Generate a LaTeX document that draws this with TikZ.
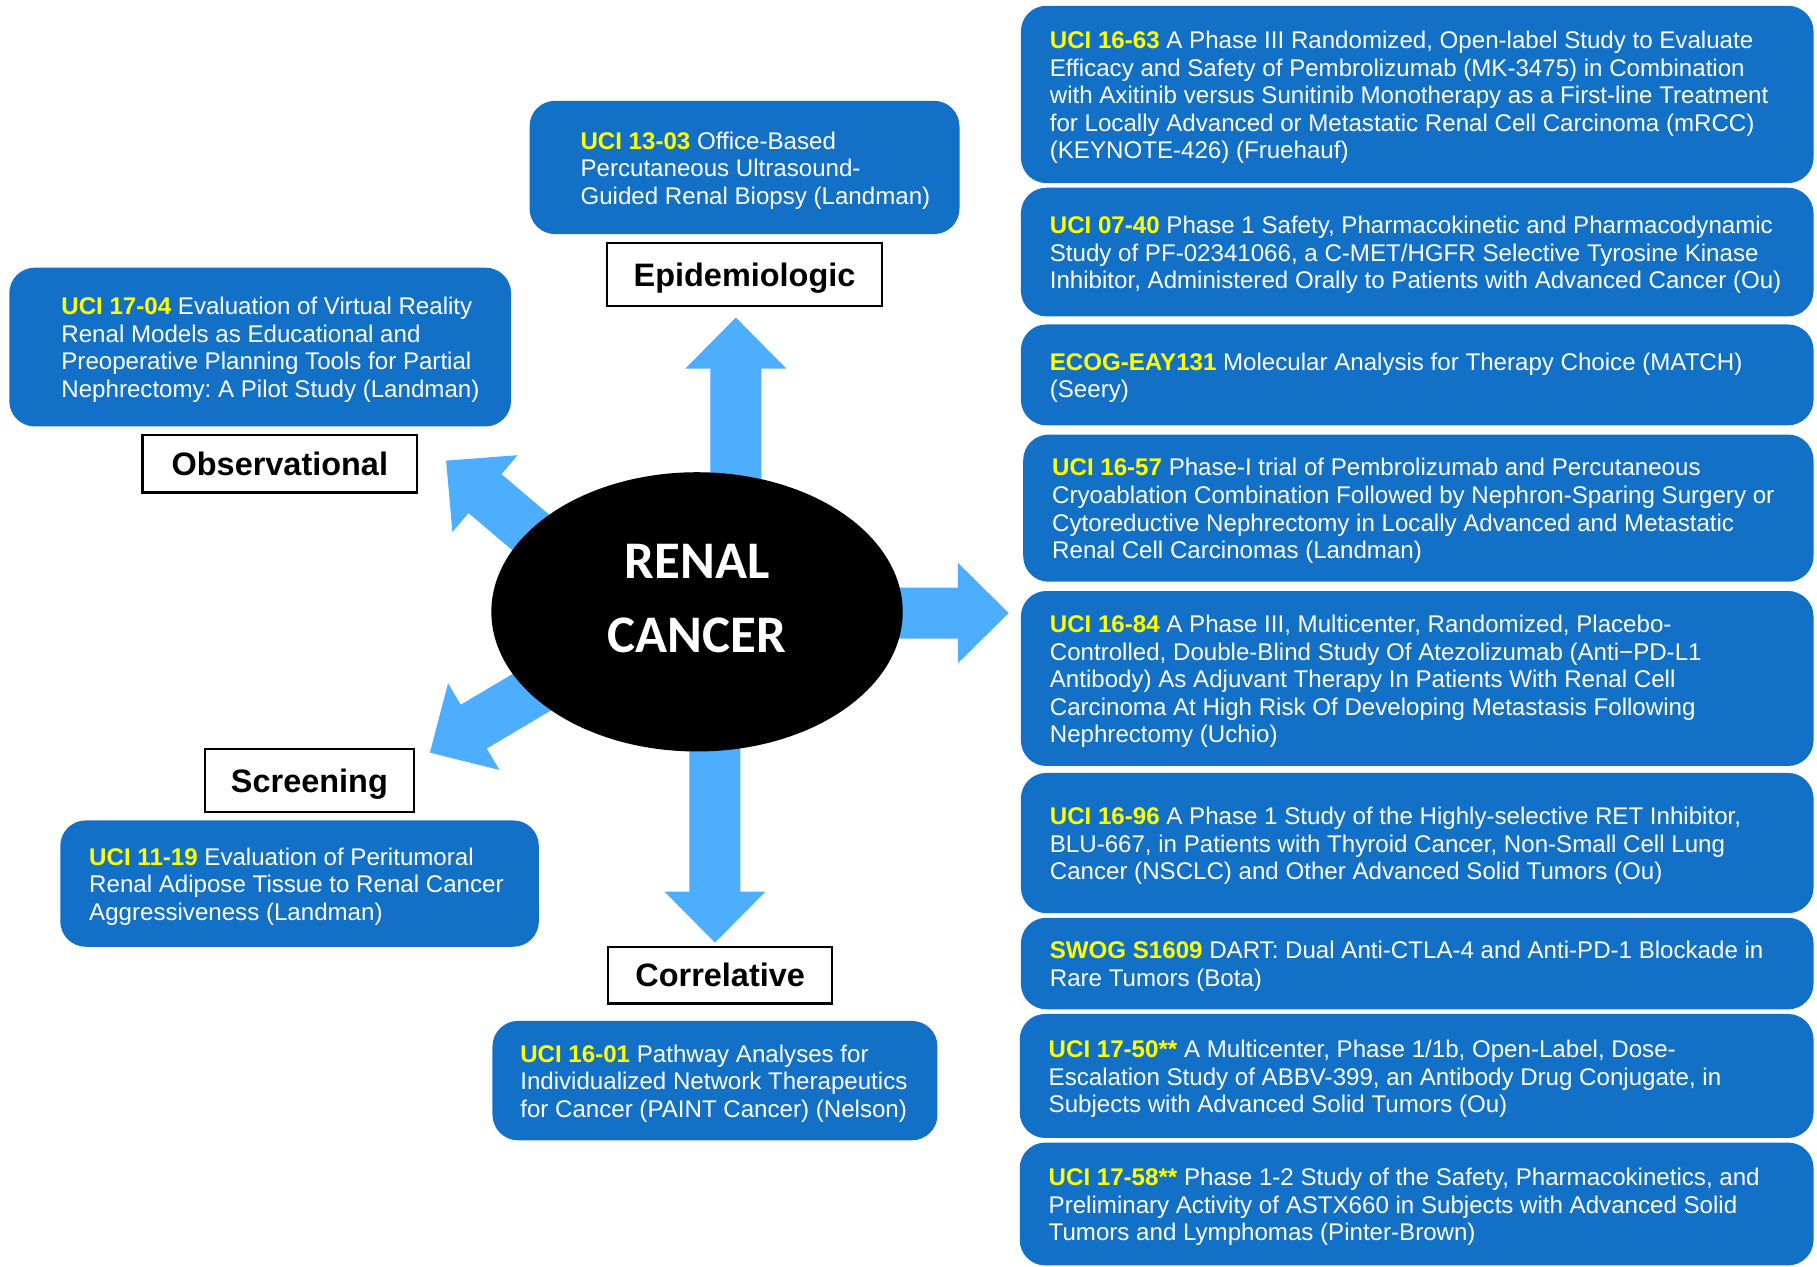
\documentclass[tikz,border=0pt]{standalone}
\usepackage{fontspec}
\setmainfont{Liberation Sans}
\newfontfamily\calibri{Carlito}
\usetikzlibrary{calc,fit,shapes.geometric}
\definecolor{boxblue}{RGB}{18,113,199}
\definecolor{arrowblue}{RGB}{77,173,255}
\definecolor{codeyellow}{RGB}{255,255,0}
\newcommand{\code}[1]{\textcolor{codeyellow}{\bfseries #1}}
\frenchspacing
\pgfdeclarelayer{bg}
\pgfsetlayers{bg,main}
% block arrow: #1 prefix, #2 start coordinate, #3 tip coordinate
\newcommand{\fatarrow}[3]{%
  \coordinate (#1-hb) at ($(#3)!22pt!(#2)$);
  \fill[arrowblue] ($(#2)!11pt!90:(#3)$) -- ($(#1-hb)!11pt!90:(#3)$) -- ($(#1-hb)!21.75pt!90:(#3)$) -- (#3)
    -- ($(#1-hb)!21.75pt!-90:(#3)$) -- ($(#1-hb)!11pt!-90:(#3)$) -- ($(#2)!11pt!-90:(#3)$) -- cycle;}
\tikzset{
  studybox/.style={fill=boxblue, draw=none, rounded corners=11pt, inner sep=0pt},
  studytext/.style={text=white, font=\fontsize{10.4}{11.9}\selectfont, align=left, inner sep=0pt, anchor=west},
  catlabel/.style={draw=black, line width=0.9pt, fill=white, font=\bfseries\fontsize{14}{16}\selectfont,
    inner sep=0pt, text height=10pt, text depth=0pt},
}
\begin{document}
\begin{tikzpicture}[x=0.5pt, y=-0.5pt]
\useasboundingbox (0,0) rectangle (1568,1093);

% centre
\node[ellipse, fill=black, inner sep=0pt, minimum width=177.5pt, minimum height=120.5pt] (cancer) at (601.5,528) {};
\node[text=white, font=\calibri\bfseries\fontsize{22.8}{32}\selectfont, align=center, inner sep=0pt] (rctext) at (601.5,516.5) {RENAL\\CANCER};

% category labels
\node[catlabel, minimum width=118.5pt, minimum height=25pt] (obs) at (241.5,400) {Observational};
\node[catlabel, minimum width=118.5pt, minimum height=27pt] (epi) at (642.5,237) {Epidemiologic};
\node[catlabel, minimum width=90pt, minimum height=27.5pt] (scr) at (267,673.5) {Screening};
\node[catlabel, minimum width=96.5pt, minimum height=24.5pt] (cor) at (621.5,841.5) {Correlative};

% left study boxes
\node[studybox, fit={(8,231) (441,368)}] (b1704) {};
\node[studytext] (t1704) at ($(b1704.west)+(45,2.5)$) {\code{UCI 17-04} Evaluation of Virtual Reality\\Renal Models as Educational and\\Preoperative Planning Tools for Partial\\Nephrectomy: A Pilot Study (Landman)};
\node[studybox, fit={(457,87) (828,202)}] (b1303) {};
\node[studytext] (t1303) at ($(b1303.west)+(44,2.5)$) {\code{UCI 13-03} Office-Based\\Percutaneous Ultrasound-\\Guided Renal Biopsy (Landman)};
\node[studybox, fit={(52,708) (465,817)}] (b1119) {};
\node[studytext] (t1119) at ($(b1119.west)+(25,2.5)$) {\code{UCI 11-19} Evaluation of Peritumoral\\Renal Adipose Tissue to Renal Cancer\\Aggressiveness (Landman)};
\node[studybox, fit={(425,881) (809,984)}] (b1601) {};
\node[studytext] (t1601) at ($(b1601.west)+(24,2.5)$) {\code{UCI 16-01} Pathway Analyses for\\Individualized Network Therapeutics\\for Cancer (PAINT Cancer) (Nelson)};

% right column
\node[studybox, fit={(881,5) (1565,158)}] (r1) {};
\node[studytext] (tr1) at ($(r1.west)+(25,2.5)$) {\code{UCI 16-63} A Phase III Randomized, Open-label Study to Evaluate\\Efficacy and Safety of Pembrolizumab (MK-3475) in Combination\\with Axitinib versus Sunitinib Monotherapy as a First-line Treatment\\for Locally Advanced or Metastatic Renal Cell Carcinoma (mRCC)\\(KEYNOTE-426) (Fruehauf)};
\node[studybox, fit={(881,162) (1565,273)}] (r2) {};
\node[studytext] (tr2) at ($(r2.west)+(25,2.5)$) {\code{UCI 07-40} Phase 1 Safety, Pharmacokinetic and Pharmacodynamic\\Study of PF-02341066, a C-MET/HGFR Selective Tyrosine Kinase\\Inhibitor, Administered Orally to Patients with Advanced Cancer (Ou)};
\node[studybox, fit={(881,280) (1565,367)}] (r3) {};
\node[studytext] (tr3) at ($(r3.west)+(25,2.5)$) {\code{ECOG-EAY131} Molecular Analysis for Therapy Choice (MATCH)\\(Seery)};
\node[studybox, fit={(883,375) (1565,502)}] (r4) {};
\node[studytext] (tr4) at ($(r4.west)+(25,2.5)$) {\code{UCI 16-57} Phase-I trial of Pembrolizumab and Percutaneous\\Cryoablation Combination Followed by Nephron-Sparing Surgery or\\Cytoreductive Nephrectomy in Locally Advanced and Metastatic\\Renal Cell Carcinomas (Landman)};
\node[studybox, fit={(881,510) (1565,661)}] (r5) {};
\node[studytext] (tr5) at ($(r5.west)+(25,2.5)$) {\code{UCI 16-84} A Phase III, Multicenter, Randomized, Placebo-\\Controlled, Double-Blind Study Of Atezolizumab (Anti−PD-L1\\Antibody) As Adjuvant Therapy In Patients With Renal Cell\\Carcinoma At High Risk Of Developing Metastasis Following\\Nephrectomy (Uchio)};
\node[studybox, fit={(881,667) (1565,788)}] (r6) {};
\node[studytext] (tr6) at ($(r6.west)+(25,2.5)$) {\code{UCI 16-96} A Phase 1 Study of the Highly-selective RET Inhibitor,\\BLU-667, in Patients with Thyroid Cancer, Non-Small Cell Lung\\Cancer (NSCLC) and Other Advanced Solid Tumors (Ou)};
\node[studybox, fit={(881,792) (1565,871)}] (r7) {};
\node[studytext] (tr7) at ($(r7.west)+(25,2.5)$) {\code{SWOG S1609} DART: Dual Anti-CTLA-4 and Anti-PD-1 Blockade in\\Rare Tumors (Bota)};
\node[studybox, fit={(880,875) (1565,982)}] (r8) {};
\node[studytext] (tr8) at ($(r8.west)+(25,2.5)$) {\code{UCI 17-50**} A Multicenter, Phase 1/1b, Open-Label, Dose-\\Escalation Study of ABBV-399, an Antibody Drug Conjugate, in\\Subjects with Advanced Solid Tumors (Ou)};
\node[studybox, fit={(880,986) (1565,1092)}] (r9) {};
\node[studytext] (tr9) at ($(r9.west)+(25,2.5)$) {\code{UCI 17-58**} Phase 1-2 Study of the Safety, Pharmacokinetics, and\\Preliminary Activity of ASTX660 in Subjects with Advanced Solid\\Tumors and Lymphomas (Pinter-Brown)};

% arrow end points
\coordinate (upS) at (635,460);   \coordinate (upT) at (635,274);
\coordinate (rtS) at (760,529);   \coordinate (rtT) at (870.5,529);
\coordinate (dnS) at (617,600);   \coordinate (dnT) at (617,813.5);
\coordinate (ulS) at (499.3,494.5); \coordinate (ulT) at (385,397.5);
\coordinate (dlS) at (499.9,573); \coordinate (dlT) at (371,649.5);

\begin{pgfonlayer}{bg}
  \fill[white] (0,0) rectangle (1568,1093);
  \fatarrow{up}{upS}{upT}
  \fatarrow{rt}{rtS}{rtT}
  \fatarrow{dn}{dnS}{dnT}
  \fatarrow{ul}{ulS}{ulT}
  \fatarrow{dl}{dlS}{dlT}
\end{pgfonlayer}
\end{tikzpicture}
\end{document}
